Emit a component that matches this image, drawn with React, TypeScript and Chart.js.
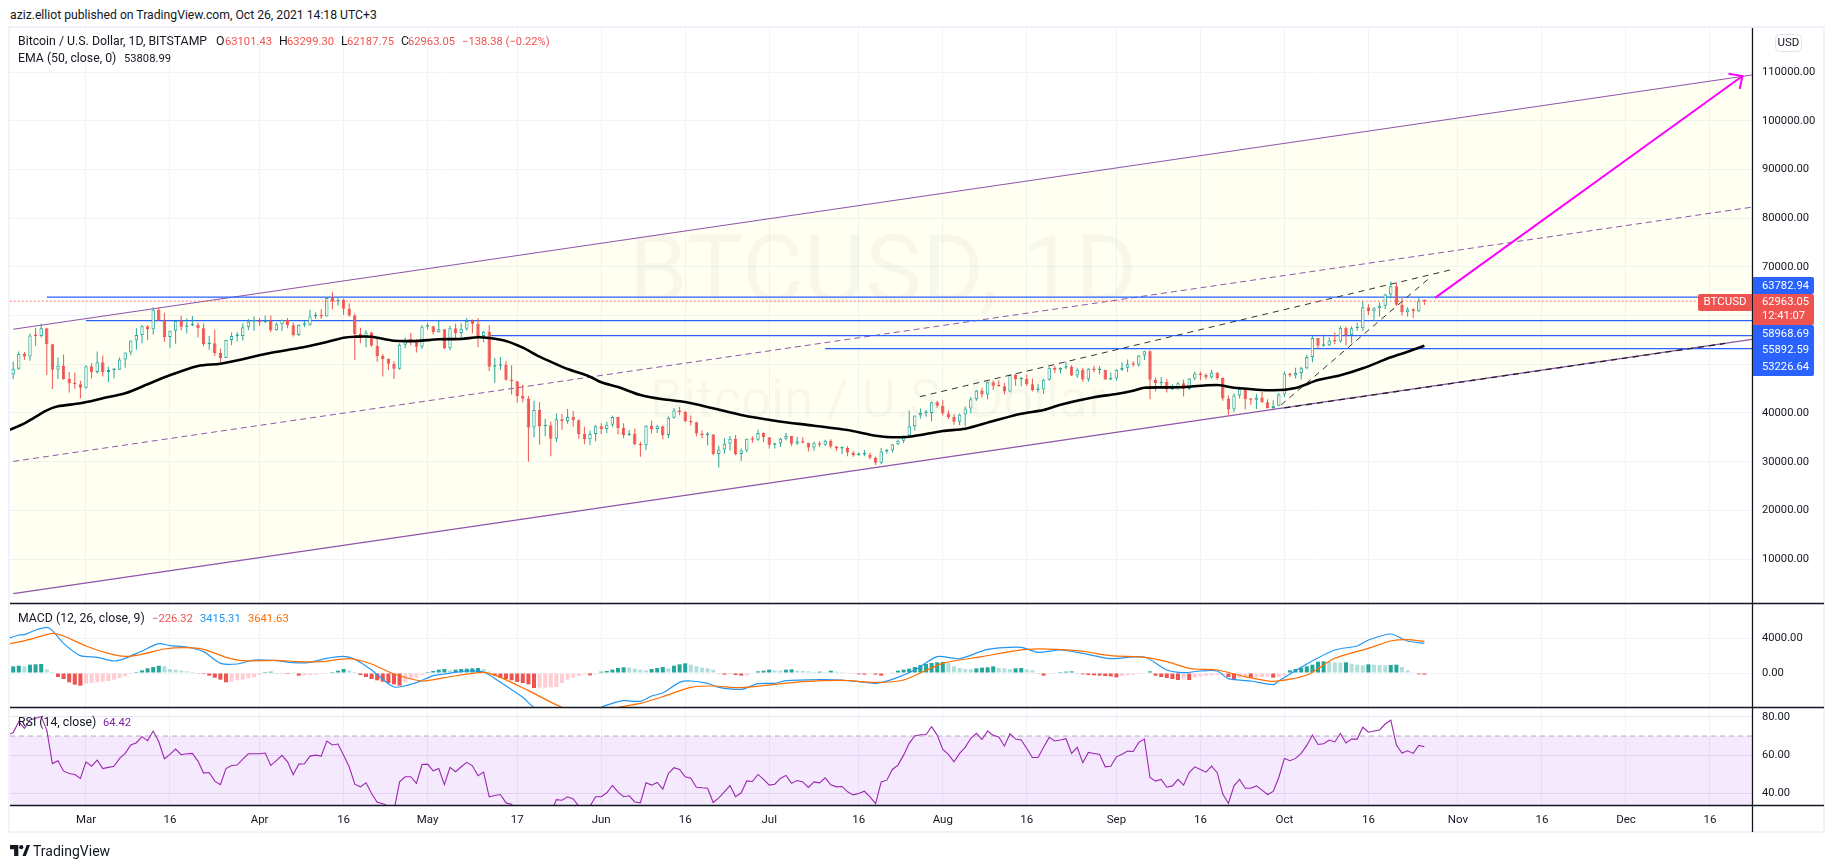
import { useEffect, useRef } from 'react';
import { Chart, registerables } from 'chart.js';

Chart.register(...registerables);

const FONT = 'Roboto';

// daily candles, Feb 16 .. Oct 26 (first candle sits 13 days before Mar 1)
const FIRST_DAY = -13;
const opens = [
  47900, 49100, 52100, 51600, 55900, 55800, 57400, 54100, 48900, 49700, 47000, 46100, 45900,
  45200, 49600, 48400, 50400, 48400, 48800, 48900, 51000, 52400, 54900, 56000, 57800, 57200, 61200, 59000, 55600, 56900, 58900, 57700, 58000, 58100, 57400, 54100, 54300, 52300, 51300, 55000, 55800, 55800, 57600, 58800,
  58800, 58700, 58900, 57000, 58200, 59100, 58000, 56000, 58100, 58100, 59800, 59900, 59800, 63600, 62900, 63200, 61400, 60000, 56200, 55700, 56500, 53800, 51700, 51100, 50100, 49100, 54000, 55000, 54900, 53600,
  57700, 57800, 56600, 57200, 53300, 57400, 56400, 57300, 58900, 58300, 55800, 56700, 49500, 49700, 49900, 46800, 46500, 43500, 42900, 37000, 40600, 37300, 37500, 34700, 38700, 38300, 39200, 38500, 35700, 34600, 35700,
  37300, 36700, 37600, 39200, 36900, 35500, 35800, 33600, 33400, 37400, 36700, 37300, 35500, 39000, 40500, 40200, 38300, 38100, 35800, 35500, 35600, 31600, 32500, 33700, 34700, 31600, 32300, 34700, 34500, 35900,
  35000, 33500, 33800, 34700, 35300, 33700, 34200, 33900, 32900, 33800, 33500, 34300, 33100, 32700, 32800, 31900, 31400, 31500, 31500, 30800, 29800, 32100, 32300, 33600, 34300, 35400, 37300, 39500, 40000, 40000, 42200,
  41500, 39900, 39200, 38200, 39700, 40900, 42800, 44600, 43800, 46300, 45600, 45500, 44400, 47800, 47000, 47000, 45900, 44700, 44800, 46800, 49300, 48900, 49300, 49500, 47700, 48900, 46900, 49100, 48800, 48800, 46900,
  47100, 48900, 49300, 50000, 49900, 51800, 52700, 46800, 46100, 46400, 44800, 45200, 46100, 44900, 47100, 48100, 47800, 47300, 48300, 47200, 43000, 40700, 43600, 44900, 42800, 42700, 43200, 42200, 41000, 41500,
  43800, 48100, 47700, 48200, 49200, 51500, 55400, 53800, 53900, 54900, 54700, 57500, 56000, 57400, 57400, 61700, 60900, 61500, 62000, 64300, 66000, 62200, 60700, 61300, 60900, 63101.43,
];
const highs = [
  50500, 52600, 52500, 56300, 57500, 58300, 57500, 54200, 51400, 52000, 48400, 48300, 46600,
  49800, 50200, 52600, 51800, 49500, 49200, 51400, 52400, 54900, 57400, 58100, 58000, 61700, 61700, 60600, 56900, 58900, 60000, 59400, 59900, 58600, 58400, 55800, 57100, 53200, 55000, 56500, 56600, 58400, 59300, 59800,
  59500, 60000, 60000, 58500, 59200, 59500, 58600, 58200, 58900, 61200, 60700, 61300, 63800, 64900, 63800, 63500, 62500, 60400, 57500, 57000, 56700, 55400, 52100, 51200, 50600, 54300, 55500, 56400, 55200, 58000,
  58500, 57900, 58900, 57200, 57900, 58300, 58400, 59500, 59200, 59500, 56900, 58000, 51300, 51500, 50600, 49800, 46500, 45800, 43500, 42500, 42200, 38800, 38200, 39900, 39800, 40800, 40400, 38700, 37200, 36400, 37500,
  37900, 38200, 39500, 39200, 37900, 36500, 36800, 34100, 37500, 38400, 37600, 37400, 39300, 41000, 41300, 40400, 39500, 38200, 36400, 36100, 35700, 33300, 34800, 35300, 35500, 32700, 34700, 35200, 36600, 36000,
  35000, 33900, 34900, 35900, 35300, 35100, 35000, 33900, 34100, 34200, 34500, 34600, 33300, 33100, 33200, 32200, 31900, 32400, 31900, 31000, 32800, 32600, 33600, 34500, 35400, 40500, 39500, 40900, 40600, 42300, 42500,
  42600, 40500, 39800, 39900, 41400, 43300, 44700, 45200, 46400, 46700, 46700, 46200, 47900, 48100, 47300, 47900, 47100, 45900, 47000, 49400, 49700, 49400, 50500, 49800, 49300, 49300, 49200, 49700, 49600, 48900, 48300,
  49000, 50400, 51000, 50600, 51900, 52800, 52900, 47300, 47400, 47000, 45900, 46400, 46900, 47200, 48500, 48500, 48100, 48800, 48300, 47300, 43600, 44000, 45000, 45200, 43000, 43900, 44300, 42800, 42600, 44100,
  48500, 48300, 49300, 49500, 51900, 55800, 55400, 56100, 55500, 56500, 57800, 57700, 57800, 58500, 62900, 62300, 61700, 62700, 64500, 67000, 66700, 63700, 61700, 61500, 63700, 63299.3,
];
const lows = [
  47000, 48900, 50900, 50700, 53800, 55500, 47800, 44900, 47000, 46800, 44200, 45000, 43000,
  45000, 47100, 48100, 47500, 46300, 47100, 48900, 49300, 51900, 53000, 54300, 55000, 56100, 59000, 54600, 53300, 54200, 57000, 56300, 57800, 55500, 53700, 53000, 51700, 50400, 51300, 53900, 54700, 54900, 57000, 56900,
  57900, 58400, 56600, 56900, 56900, 57400, 55700, 55800, 57600, 57900, 59300, 59300, 59800, 61300, 62000, 60100, 59700, 50900, 54300, 53500, 53600, 50500, 47500, 48800, 47000, 48900, 53300, 53900, 52400, 53100,
  57100, 56100, 56500, 53100, 52900, 55300, 55300, 56900, 56300, 53500, 54500, 48600, 46200, 48800, 46600, 43800, 42100, 42200, 30000, 35000, 33500, 35300, 31100, 34000, 36500, 37800, 37200, 34700, 33600, 33400, 34200,
  35700, 35900, 37200, 35600, 34800, 35300, 33400, 31000, 32400, 35800, 35900, 34600, 34800, 38800, 39600, 38100, 37400, 35200, 34800, 33400, 31300, 28800, 31700, 32300, 31300, 30200, 32000, 33900, 34300, 34000,
  32700, 32700, 33000, 34400, 33200, 33500, 33800, 32100, 32300, 33000, 33300, 32700, 32200, 31600, 31100, 31000, 31200, 31100, 30500, 29300, 29500, 31700, 31900, 33400, 33800, 35200, 36400, 38800, 39300, 38300, 41100,
  39500, 38700, 37600, 37500, 37300, 39900, 42500, 43200, 42800, 44700, 45400, 43800, 44200, 45600, 45500, 45500, 44400, 44200, 43900, 46600, 48200, 48100, 49000, 47600, 47200, 46400, 46400, 48300, 47900, 46800, 46700,
  46600, 48600, 48400, 49500, 49500, 50900, 42800, 44400, 45500, 44200, 44700, 44700, 43400, 44700, 46700, 46700, 46900, 47100, 46800, 42500, 39600, 40200, 43000, 40700, 41700, 40800, 42100, 40900, 40800, 41400,
  43300, 47400, 47100, 46900, 49000, 50400, 53300, 53600, 53700, 54100, 54400, 53900, 54300, 56900, 56900, 60100, 58900, 59800, 61300, 63500, 62000, 60000, 59800, 59500, 60700, 62187.75,
];
const closes = [
  49100, 52100, 51600, 55900, 55800, 57400, 54100, 48900, 49700, 47000, 46100, 45900, 45200,
  49600, 48400, 50400, 48400, 48800, 48900, 51000, 52400, 54900, 56000, 57800, 57200, 61200, 59000, 55600, 56900, 58900, 57700, 58000, 58100, 57400, 54100, 54300, 52300, 51300, 55000, 55800, 55800, 57600, 58800, 58800,
  58700, 58900, 57000, 58200, 59100, 58000, 56000, 58100, 58100, 59800, 59900, 59800, 63600, 62900, 63200, 61400, 60000, 56200, 55700, 56500, 53800, 51700, 51100, 50100, 49100, 54000, 55000, 54900, 53600, 57700,
  57800, 56600, 57200, 53300, 57400, 56400, 57300, 58900, 58300, 55800, 56700, 49500, 49700, 49900, 46800, 46500, 43500, 42900, 37000, 40600, 37300, 37500, 34700, 38700, 38300, 39200, 38500, 35700, 34600, 35700, 37300,
  36700, 37600, 39200, 36900, 35500, 35800, 33600, 33400, 37400, 36700, 37300, 35500, 39000, 40500, 40200, 38300, 38100, 35800, 35500, 35600, 31600, 32500, 33700, 34700, 31600, 32300, 34700, 34500, 35900, 35000,
  33500, 33800, 34700, 35300, 33700, 34200, 33900, 32900, 33800, 33500, 34300, 33100, 32700, 32800, 31900, 31400, 31500, 31500, 30800, 29800, 32100, 32300, 33600, 34300, 35400, 37300, 39500, 40000, 40000, 42200, 41500,
  39900, 39200, 38200, 39700, 40900, 42800, 44600, 43800, 46300, 45600, 45500, 44400, 47800, 47000, 47000, 45900, 44700, 44800, 46800, 49300, 48900, 49300, 49500, 47700, 48900, 46900, 49100, 48800, 48800, 46900, 47100,
  48900, 49300, 50000, 49900, 51800, 52700, 46800, 46100, 46400, 44800, 45200, 46100, 44900, 47100, 48100, 47800, 47300, 48300, 47200, 43000, 40700, 43600, 44900, 42800, 42700, 43200, 42200, 41000, 41500, 43800,
  48100, 47700, 48200, 49200, 51500, 55400, 53800, 53900, 54900, 54700, 57500, 56000, 57400, 57400, 61700, 60900, 61500, 62000, 64300, 66000, 62200, 60700, 61300, 60900, 63100, 62963.05,
];

// EMA 50, read every few days
const emaDays = [-14, -11, -7, -5, -1, 3, 7, 11, 14, 20, 24, 28, 32, 36, 39, 43, 46, 48, 51, 55, 59, 63, 67, 70, 72, 75, 78, 81, 84, 86, 90, 92, 95, 99, 103, 107, 112, 117, 123, 130, 136, 140, 143, 147, 153, 157, 162, 167, 171, 174, 180, 184, 187, 189, 195, 202, 205, 212, 216, 220, 224, 228, 233, 236, 239];
const emaValues = [36366, 37885, 40554, 41376, 41991, 43018, 44044, 45892, 47329, 49649, 50121, 51024, 52113, 52934, 53550, 54576, 55459, 55664, 55664, 54843, 54782, 55131, 55192, 55541, 55398, 54782, 53406, 51558, 49998, 49033, 47452, 46303, 45338, 43695, 42813, 42258, 40965, 39589, 38419, 37393, 36510, 35545, 35073, 35134, 36305, 36777, 38358, 39856, 40616, 41704, 43223, 43901, 44578, 45194, 45276, 45748, 45194, 44660, 45133, 46775, 47740, 49177, 51435, 52585, 53808.99];

// MACD pane
const macdDays = [-14, -12, -11, -9, -7, -6, -4, -1, 2, 5, 7, 10, 13, 15, 18, 21, 24, 27, 30, 34, 37, 40, 43, 46, 48, 51, 55, 59, 62, 64, 68, 71, 74, 78, 80, 84, 89, 92, 94, 96, 99, 101, 103, 106, 108, 111, 113, 117, 120, 123, 125, 131, 135, 138, 141, 144, 148, 152, 156, 161, 167, 170, 174, 178, 183, 189, 193, 196, 199, 202, 204, 208, 212, 213, 218, 223, 227, 229, 233, 236, 239];
const macdValues = [3959, 4382, 4420, 4958, 5266, 4881, 3421, 2000, 1807, 1384, 1692, 2537, 3383, 3152, 3000, 2460, 1115, 1038, 1500, 1423, 1192, 1231, 1692, 1922, 1576, 347, -1613, -1114, -307, -115, 231, 116, -1075, -2805, -3957, -5000, -5300, -3957, -3496, -3189, -3266, -2651, -2305, -1075, -922, -1191, -1652, -1882, -1229, -1191, -883, -768, -806, -998, -1191, -730, 347, 1884, 1653, 2729, 2960, 2383, 2652, 2268, 1653, 1845, 347, 39, 231, 231, -652, -921, -1344, -921, 1039, 2653, 3114, 3806, 4497, 3690, 3415.31];
const signalDays = [-14, -10, -6, -4, 0, 4, 7, 10, 14, 18, 21, 25, 28, 34, 38, 42, 47, 51, 55, 60, 64, 71, 74, 79, 85, 89, 93, 95, 99, 103, 108, 112, 117, 123, 128, 135, 141, 146, 153, 160, 168, 177, 183, 189, 193, 197, 199, 202, 207, 212, 218, 223, 229, 233, 236, 239];
const signalValues = [3306, 3882, 4574, 4267, 3114, 2268, 1922, 2153, 2768, 2921, 2729, 1807, 1423, 1461, 1308, 1308, 1653, 1038, -115, -922, -537, 77, -499, -2036, -3957, -4600, -4150, -3957, -3496, -2728, -1652, -1498, -1690, -1306, -998, -845, -1075, -806, 1115, 1884, 2729, 2576, 1999, 1807, 1307, 539, 424, 347, -422, -960, -230, 1692, 2845, 3690, 3844, 3641.63];
const histValues = [
  770, 845, 770, 960, 1000, 1040, 420, 115, -460, -690, -1075, -1345, -1460,
  -1230, -1155, -1075, -1000, -920, -770, -575, -385, -115, 115, 305, 540, 690, 845, 770, 460, 385, 270, 190, 115, -40, -115, -305, -540, -770, -1075, -1000, -845, -770, -615, -500,
  -230, 115, 155, -40, -75, -115, 75, -305, -270, -230, -190, -115, -40, 115, 270, 460, 270, 115, -230, -460, -690, -845, -1000, -1155, -1305, -1460, -1075, -690, -540, -230,
  115, 230, 385, 460, 305, 385, 460, 500, 540, 575, 460, 155, -305, -540, -690, -845, -1040, -1155, -1305, -1730, -1690, -1690, -1650, -1615, -1155, -770, -540, -345, -155, -270, -115,
  155, 230, 385, 575, 655, 615, 500, 385, 305, 460, 575, 690, 540, 845, 1000, 1115, 960, 770, 615, 540, 385, -75, -190, -155, -230, -305, -270, -40, 190, 270,
  385, 305, 270, 385, 420, 270, 230, 190, 115, 155, 115, 270, 155, 115, 75, -75, -155, -190, -115, -190, -305, -40, 75, 270, 385, 500, 690, 920, 1040, 1155, 1230,
  1270, 1155, 770, 575, 460, 420, 540, 615, 655, 770, 575, 540, 460, 540, 575, 420, 305, -40, -305, -115, -40, 115, 155, 190, -75, -155, -230, -270, -305, -345, -385,
  -500, -345, -270, -190, -115, -40, 190, -305, -460, -575, -690, -805, -730, -805, -540, -385, -305, -270, -230, -230, -460, -690, -540, -500, -540, -500, -460, -420, -540, -460,
  -305, 305, 460, 615, 770, 960, 1305, 1345, 1270, 1230, 1190, 1230, 1075, 960, 885, 1000, 960, 920, 885, 920, 960, 690, 305, 75, -150, -190, -226.32,
];

// RSI pane, one value per day from the day before the first candle
const RSI_FIRST_DAY = -14;
const rsiValues = [
  70.5, 71.8, 77.5, 74.0, 78.4, 79.3, 80.2, 73.1, 55.6, 57.1, 51.6, 50.4, 49.9, 47.8,
  56.5, 54.2, 57.4, 53.0, 53.6, 54.2, 58.3, 60.9, 65.3, 66.5, 69.7, 67.6, 72.6, 67.0, 58.1, 60.4, 63.2, 60.2, 60.7, 60.9, 56.9, 50.6, 50.9, 46.4, 44.5, 53.0, 54.6, 54.8, 57.9, 60.7, 60.7,
  60.7, 61.1, 54.6, 57.1, 59.9, 56.5, 49.7, 55.3, 55.5, 59.5, 60.0, 59.5, 67.4, 65.3, 65.8, 60.0, 53.9, 44.8, 43.4, 45.5, 39.9, 35.3, 34.6, 33.3, 31.1, 46.0, 48.7, 48.7, 45.2, 55.1,
  55.3, 51.8, 53.0, 44.6, 53.6, 51.3, 53.9, 56.2, 54.4, 49.2, 51.1, 38.2, 38.9, 39.4, 35.0, 34.3, 29.4, 31.1, 27.7, 29.4, 25.9, 27.7, 29.4, 36.7, 36.4, 38.2, 37.1, 33.3, 32.0, 33.3, 38.2,
  38.2, 40.3, 44.1, 40.8, 38.2, 38.7, 35.5, 35.0, 45.5, 44.3, 45.7, 42.2, 50.4, 53.4, 52.5, 48.7, 47.9, 43.2, 42.9, 42.7, 35.2, 37.6, 40.8, 44.1, 38.2, 40.3, 46.5, 46.2, 49.9, 47.3,
  44.3, 44.8, 47.8, 49.4, 45.2, 46.7, 46.0, 43.1, 46.0, 45.5, 48.1, 44.5, 43.4, 43.6, 40.8, 39.2, 39.9, 41.1, 38.2, 34.6, 46.0, 46.9, 52.5, 54.8, 60.0, 66.2, 70.0, 70.7, 70.7, 74.9, 70.5,
  63.0, 60.4, 56.5, 60.9, 64.1, 68.8, 71.4, 68.2, 72.6, 70.4, 69.5, 64.7, 71.2, 68.4, 67.9, 63.5, 58.8, 58.8, 64.1, 69.3, 67.4, 67.9, 68.6, 60.9, 64.1, 56.0, 61.4, 60.9, 60.4, 53.9, 54.2,
  59.1, 60.5, 62.1, 61.9, 66.7, 68.4, 48.3, 46.4, 47.3, 43.2, 43.9, 47.3, 44.3, 50.9, 53.9, 52.5, 51.1, 54.3, 50.8, 39.6, 34.7, 43.9, 47.3, 42.7, 42.7, 43.9, 41.7, 39.4, 41.0, 48.3,
  58.3, 57.1, 58.3, 60.9, 65.1, 70.5, 65.6, 66.0, 67.9, 66.9, 71.3, 66.4, 68.4, 68.4, 74.6, 72.0, 72.6, 73.2, 76.3, 78.3, 65.3, 61.1, 62.3, 60.9, 65.1, 64.42,
];

// axis ticks
const timeTickDays = [0, 15, 31, 46, 61, 77, 92, 107, 122, 138, 153, 168, 184, 199, 214, 229, 245, 260, 275, 290];
const timeTickLabels = ['Mar', '16', 'Apr', '16', 'May', '17', 'Jun', '16', 'Jul', '16', 'Aug', '16', 'Sep', '16', 'Oct', '16', 'Nov', '16', 'Dec', '16'];
const priceTicks = [10000, 20000, 30000, 40000, 50000, 60000, 70000, 80000, 90000, 100000, 110000];
const macdTicks = [0, 4000];
const rsiTicks = [40, 60, 80];

// drawings on the price pane, [left, right]
const DAY_MIN = -13.57;
const DAY_MAX = 297.5;
const channelDays = [-13, DAY_MAX];
const channelUpper = [57185, 109383];
const channelMiddle = [30058, 82257];
const channelLower = [2932, 55130];
const levelPrices = [63782.94, 58968.69, 55892.59, 53226.64];
const levelStartDays = [-7, 0, 72, 132];
const lastPrice = 62963.05;
const wedgeUpperDays = [148.9, 243.6];
const wedgeUpperPrices = [43346, 69358];
const wedgeLowerDays = [213.4, 239.7];
const wedgeLowerPrices = [41642, 67510];
const supportDays = [214, 292.7];
const supportPrices = [41040, 54270];
const arrowDays = [240.9, 295.8];
const arrowPrices = [63637, 109178];
const arrowHeadDays = [293.3, 295.8, 295.3];
const arrowHeadPrices = [109650, 109178, 106500];

const GREEN = '#26a69a';
const RED = '#ef5350';
const PURPLE = '#8f55ab';
const BLUE = '#2962ff';
const AXIS_TEXT = '#131722';
const NUM_SIZE = 11.2;

const pts = (xs: number[], ys: number[]) => xs.map((x, i) => ({ x, y: ys[i] }));
const days = closes.map((_, i) => FIRST_DAY + i);

function histColors() {
  return histValues.map((v, i) => {
    const prev = i > 0 ? histValues[i - 1] : 0;
    if (v >= 0) return v > prev ? GREEN : '#b2dfdb';
    return v < prev ? RED : '#ffcdd2';
  });
}

const overlay = {
  id: 'overlay',
  beforeDatasetsDraw(chart: Chart) {
    const { ctx } = chart;
    ctx.save();
    ctx.textAlign = 'center';
    ctx.textBaseline = 'middle';
    ctx.fillStyle = 'rgba(19,23,34,0.035)';
    ctx.font = `95px ${FONT}`;
    ctx.fillText('BTCUSD, 1D', 883, 278);
    ctx.font = `53px ${FONT}`;
    ctx.fillText('Bitcoin / U.S. Dollar', 878, 404);
    ctx.restore();
  },
  afterDraw(chart: Chart) {
    const { ctx } = chart;
    const text = (s: string, x: number, y: number, color = AXIS_TEXT, size = 12.3, align: CanvasTextAlign = 'left') => {
      ctx.font = `${size}px ${FONT}`;
      ctx.textAlign = align;
      ctx.textBaseline = 'middle';
      ctx.fillStyle = color;
      ctx.fillText(s, x, y);
    };
    const box = (x: number, y: number, w: number, h: number, color: string, r: number[]) => {
      ctx.fillStyle = color;
      ctx.beginPath();
      ctx.roundRect(x, y, w, h, r);
      ctx.fill();
    };
    ctx.save();

    // outer frame and pane separators
    ctx.strokeStyle = '#f0f3fa';
    ctx.lineWidth = 2;
    ctx.strokeRect(9, 27, 1815, 805);
    ctx.strokeStyle = '#131722';
    ctx.lineWidth = 1.3;
    ctx.beginPath();
    for (const y of [603.5, 707.5, 805.5]) {
      ctx.moveTo(10, y);
      ctx.lineTo(1824, y);
    }
    ctx.moveTo(1752.5, 28);
    ctx.lineTo(1752.5, 832);
    ctx.stroke();

    // legends
    text('Bitcoin / U.S. Dollar, 1D, BITSTAMP', 18, 42);
    text('O', 216, 42);
    text('63101.43', 225, 42, RED, NUM_SIZE);
    text('H', 279, 42);
    text('63299.30', 287, 42, RED, NUM_SIZE);
    text('L', 341, 42);
    text('62187.75', 347, 42, RED, NUM_SIZE);
    text('C', 401, 42);
    text('62963.05', 408, 42, RED, NUM_SIZE);
    text('\u2212138.38 (\u22120.22%)', 462, 42, RED, NUM_SIZE);
    text('EMA (50, close, 0)', 18, 59);
    text('53808.99', 124, 59, AXIS_TEXT, NUM_SIZE);
    text('MACD (12, 26, close, 9)', 18, 619);
    text('\u2212226.32', 152, 619, RED, NUM_SIZE);
    text('3415.31', 200, 619, '#2196f3', NUM_SIZE);
    text('3641.63', 248, 619, '#ff6d00', NUM_SIZE);
    text('RSI (14, close)', 18, 723);
    text('64.42', 103, 723, '#7b1fa2', NUM_SIZE);

    // USD button
    ctx.fillStyle = '#fff';
    ctx.strokeStyle = '#e0e3eb';
    ctx.lineWidth = 1;
    ctx.beginPath();
    ctx.roundRect(1775.5, 34.5, 26, 17, 4);
    ctx.fill();
    ctx.stroke();
    text('USD', 1788.5, 43, AXIS_TEXT, 11.5, 'center');

    // last price and level labels
    box(1698, 294, 54, 17, RED, [2, 0, 0, 2]);
    text('BTCUSD', 1725, 302.5, '#fff', 11.5, 'center');
    box(1753, 277, 61, 17, BLUE, [0, 2, 2, 0]);
    text('63782.94', 1762, 285.7, '#fff', NUM_SIZE);
    box(1753, 294, 61, 31, RED, [0, 2, 2, 0]);
    text('62963.05', 1762, 302.5, '#fff', NUM_SIZE);
    text('12:41:07', 1762, 316.5, '#fff', NUM_SIZE);
    box(1753, 325, 61, 51, BLUE, [0, 2, 2, 0]);
    text('58968.69', 1762, 333.7, '#fff', NUM_SIZE);
    text('55892.59', 1762, 350.3, '#fff', NUM_SIZE);
    text('53226.64', 1762, 367.3, '#fff', NUM_SIZE);
    ctx.restore();
  },
};

export default function App() {
  const canvasRef = useRef<HTMLCanvasElement>(null);

  useEffect(() => {
    if (!canvasRef.current) return;

    const level = (i: number) => ({
      type: 'line' as const,
      data: pts([levelStartDays[i], DAY_MAX], [levelPrices[i], levelPrices[i]]),
      borderColor: BLUE,
      borderWidth: 1.3,
      pointRadius: 0,
      yAxisID: 'y',
      order: 40,
    });
    const thin = { type: 'line' as const, pointRadius: 0, yAxisID: 'y' };

    const chart = new Chart(canvasRef.current, {
      type: 'bar',
      plugins: [overlay],
      data: {
        datasets: [
          // channel
          { ...thin, data: pts(channelDays, channelUpper), borderColor: PURPLE, borderWidth: 1.2, order: 50 },
          {
            ...thin,
            data: pts(channelDays, channelLower),
            borderColor: PURPLE,
            borderWidth: 1.2,
            fill: '-1',
            backgroundColor: 'rgba(255,255,0,0.05)',
            order: 51,
          },
          { ...thin, data: pts(channelDays, channelMiddle), borderColor: PURPLE, borderWidth: 1, borderDash: [6, 4], order: 49 },
          level(0),
          level(1),
          level(2),
          level(3),
          {
            ...thin,
            data: pts([DAY_MIN, DAY_MAX], [lastPrice, lastPrice]),
            borderColor: RED,
            borderWidth: 1,
            borderDash: [1.5, 2.5],
            order: 12,
          },
          // candles
          {
            type: 'bar',
            data: days.map((x, i) => ({ x, y: [lows[i], highs[i]] })),
            backgroundColor: closes.map((c, i) => (c >= opens[i] ? GREEN : RED)),
            maxBarThickness: 1,
            yAxisID: 'y',
            order: 30,
          },
          {
            type: 'bar',
            data: days.map((x, i) => ({ x, y: [opens[i], closes[i]] })),
            backgroundColor: closes.map((c, i) => (c >= opens[i] ? '#fffff6' : RED)),
            borderColor: closes.map((c, i) => (c >= opens[i] ? GREEN : RED)),
            borderWidth: 1,
            borderSkipped: false,
            maxBarThickness: 3.4,
            minBarLength: 1.5,
            yAxisID: 'y',
            order: 29,
          },
          { ...thin, data: pts(emaDays, emaValues), borderColor: '#000', borderWidth: 2.6, tension: 0.3, order: 20 },
          { ...thin, data: pts(wedgeUpperDays, wedgeUpperPrices), borderColor: '#333', borderWidth: 1, borderDash: [6, 5], order: 15 },
          { ...thin, data: pts(wedgeLowerDays, wedgeLowerPrices), borderColor: '#333', borderWidth: 1, borderDash: [6, 5], order: 15 },
          { ...thin, data: pts(supportDays, supportPrices), borderColor: '#222', borderWidth: 1.3, borderDash: [6, 5], order: 15 },
          { ...thin, data: pts(arrowDays, arrowPrices), borderColor: '#ff00ff', borderWidth: 2, order: 10 },
          { ...thin, data: pts(arrowHeadDays, arrowHeadPrices), borderColor: '#ff00ff', borderWidth: 2, order: 10 },
          // MACD
          {
            type: 'bar',
            data: days.map((x, i) => ({ x, y: histValues[i] })),
            backgroundColor: histColors(),
            maxBarThickness: 4.4,
            yAxisID: 'yMacd',
            order: 9,
          },
          { type: 'line', data: pts(macdDays, macdValues), borderColor: '#2196f3', borderWidth: 1.2, pointRadius: 0, tension: 0.25, yAxisID: 'yMacd', order: 8 },
          { type: 'line', data: pts(signalDays, signalValues), borderColor: '#ff6d00', borderWidth: 1.2, pointRadius: 0, tension: 0.25, yAxisID: 'yMacd', order: 7 },
          // RSI
          {
            type: 'line',
            data: pts([DAY_MIN, DAY_MAX], [70, 70]),
            borderColor: '#b7adbf',
            borderWidth: 1,
            borderDash: [5, 4],
            pointRadius: 0,
            fill: { value: 33.9 },
            backgroundColor: 'rgba(155,60,240,0.115)',
            yAxisID: 'yRsi',
            order: 6,
          },
          {
            type: 'line',
            data: rsiValues.map((y, i) => ({ x: RSI_FIRST_DAY + i, y })),
            borderColor: '#9c27b0',
            borderWidth: 1.1,
            pointRadius: 0,
            yAxisID: 'yRsi',
            order: 5,
          },
        ],
      },
      options: {
        responsive: false,
        animation: false,
        events: [],
        layout: { padding: { left: 10, top: 27, right: 11, bottom: 36 } },
        datasets: { bar: { grouped: false } },
        plugins: { legend: { display: false }, tooltip: { enabled: false }, title: { display: false } },
        scales: {
          x: {
            type: 'linear',
            min: DAY_MIN,
            max: DAY_MAX,
            offset: false,
            afterFit: (axis) => {
              axis.height = 27;
            },
            afterBuildTicks: (axis) => {
              axis.ticks = timeTickDays.map((value) => ({ value }));
            },
            grid: { color: '#f0f3fa', offset: false, drawTicks: false },
            border: { display: false },
            ticks: {
              autoSkip: false,
              maxRotation: 0,
              padding: 8,
              color: AXIS_TEXT,
              font: { family: FONT, size: 11.5 },
              callback: (v) => timeTickLabels[timeTickDays.indexOf(Number(v))],
            },
          },
          y: {
            type: 'linear',
            position: 'right',
            stack: 'panes',
            stackWeight: 576,
            weight: 1,
            min: 993,
            max: 119240,
            afterFit: (axis) => {
              axis.width = 71;
            },
            afterBuildTicks: (axis) => {
              axis.ticks = priceTicks.map((value) => ({ value }));
            },
            grid: { color: '#f0f3fa', drawTicks: false },
            border: { display: false },
            ticks: { padding: 10, color: AXIS_TEXT, font: { family: FONT, size: NUM_SIZE }, callback: (v) => Number(v).toFixed(2) },
          },
          yMacd: {
            type: 'linear',
            position: 'right',
            stack: 'panes',
            stackWeight: 104,
            weight: 2,
            min: -3919,
            max: 8069,
            afterFit: (axis) => {
              axis.width = 71;
            },
            afterBuildTicks: (axis) => {
              axis.ticks = macdTicks.map((value) => ({ value }));
            },
            grid: { color: '#f0f3fa', drawTicks: false },
            border: { display: false },
            ticks: { padding: 10, color: AXIS_TEXT, font: { family: FONT, size: NUM_SIZE }, callback: (v) => Number(v).toFixed(2) },
          },
          yRsi: {
            type: 'linear',
            position: 'right',
            stack: 'panes',
            stackWeight: 98,
            weight: 3,
            min: 33.9,
            max: 85.2,
            afterFit: (axis) => {
              axis.width = 71;
            },
            afterBuildTicks: (axis) => {
              axis.ticks = rsiTicks.map((value) => ({ value }));
            },
            grid: { color: '#ece4f5', drawTicks: false },
            border: { display: false },
            ticks: { padding: 10, color: AXIS_TEXT, font: { family: FONT, size: NUM_SIZE }, callback: (v) => Number(v).toFixed(2) },
          },
        },
      },
    } as any);

    return () => chart.destroy();
  }, []);

  return (
    <div style={{ position: 'absolute', left: 0, top: 0, width: 1834, height: 868, overflow: 'hidden', background: '#fff', fontFamily: FONT, color: AXIS_TEXT }}>
      <div style={{ position: 'absolute', left: 10, top: 7, fontSize: 12.2, lineHeight: '16px', whiteSpace: 'nowrap' }}>
        aziz.elliot published on TradingView.com, Oct 26, 2021 14:18 UTC+3
      </div>
      <canvas ref={canvasRef} width={1834} height={868} style={{ position: 'absolute', left: 0, top: 0 }} />
      <svg width="20" height="11" viewBox="0 0 24 13" style={{ position: 'absolute', left: 10, top: 845 }}>
        <path d="M0 0h10v13H5V5H0zM15 13l5-13h4l-5 13z" fill="#131722" />
        <circle cx="13.5" cy="2.5" r="2.5" fill="#131722" />
      </svg>
      <div style={{ position: 'absolute', left: 33, top: 842, fontSize: 14, lineHeight: '18px', whiteSpace: 'nowrap' }}>TradingView</div>
    </div>
  );
}
